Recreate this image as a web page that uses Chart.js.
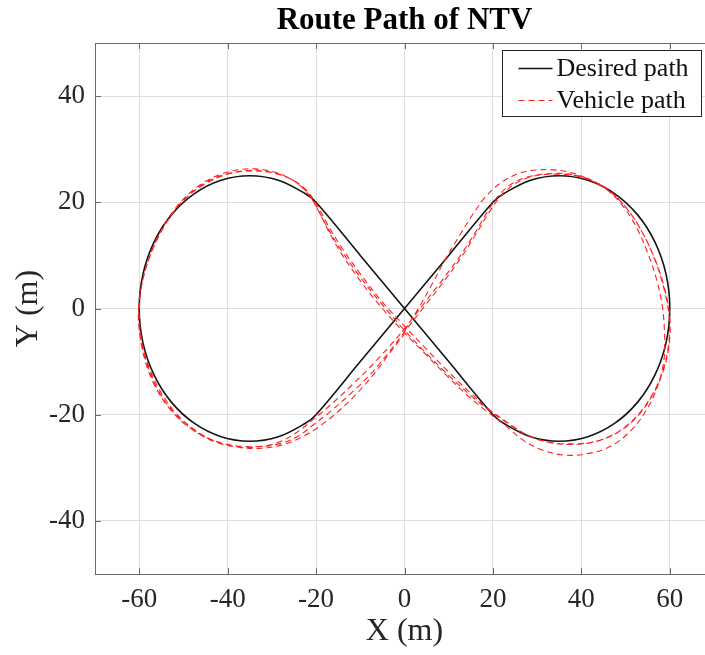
<!DOCTYPE html>
<html>
<head>
<meta charset="utf-8">
<script src="https://cdn.jsdelivr.net/npm/chart.js@4/dist/chart.umd.min.js"></script>
<style>
html,body{margin:0;padding:0;background:#fff;overflow:hidden;}
#wrap{position:relative;width:714px;height:655px;}
</style>
</head>
<body>
<div id="wrap"><canvas id="c" width="714" height="655"></canvas></div>
<script>
const chartTitle = 'Route Path of NTV';
const xLabel = 'X (m)';
const yLabel = 'Y (m)';
const seriesNames = ['Desired path', 'Vehicle path'];
const xTicks = [-60, -40, -20, 0, 20, 40, 60];
const yTicks = [-40, -20, 0, 20, 40];

const desiredPath = [
  [0,0],[10,10],[20,20],[22.5,21.65],[28.53,24.15],[35,25],[41.47,24.15],[47.5,21.65],
  [52.68,17.68],[56.65,12.5],[59.15,6.47],[60,0],[59.15,-6.47],[56.65,-12.5],[52.68,-17.68],
  [47.5,-21.65],[41.47,-24.15],[35,-25],[28.53,-24.15],[22.5,-21.65],[20,-20],[10,-10],[0,0],
  [-10,10],[-20,20],[-22.5,21.65],[-28.53,24.15],[-35,25],[-41.47,24.15],[-47.5,21.65],
  [-52.68,17.68],[-56.65,12.5],[-59.15,6.47],[-60,0],[-59.15,-6.47],[-56.65,-12.5],[-52.68,-17.68],
  [-47.5,-21.65],[-41.47,-24.15],[-35,-25],[-28.53,-24.15],[-22.5,-21.65],[-20,-20],[-10,-10],[0,0]
];

const vehiclePath = [
  // lap 1
  [0,-4.2],[3.5,0.5],[6.5,5],[9.2,9.2],[12.5,13.8],[15.5,17.8],[18.5,21.2],[22,23.8],[26,25.5],
  [30,26.1],[34,26.1],[38,25.5],[42,24.2],[46,22.2],[49.5,19.2],[52.5,15.2],[55,10.5],[57,5.5],
  [58.3,0.5],[58.8,-4.5],[58.7,-9.5],[57.3,-14.5],[54.8,-19],[51.2,-23],[46.5,-26],[41,-27.4],
  [36,-27.6],[31,-26.6],[26.5,-24.6],[22.5,-21.8],[18.5,-19.3],[14,-16.2],[9.5,-12.6],[5,-8.8],
  [0,-4.6],[-5,0],[-10,5.2],[-14,10],[-17,14.3],[-19.6,18.6],[-22,21.8],[-25.5,24.3],[-29.5,25.7],
  [-34,26.3],[-38.5,26],[-43,24.8],[-47.5,22.5],[-51.5,19.2],[-55,14.8],[-57.8,9.5],[-59.6,3.8],
  [-60.2,-1.5],[-59.5,-6.5],[-58,-11],[-55.8,-15.3],[-52.5,-19.3],[-48.3,-22.6],[-43.5,-24.9],
  [-38.5,-26],[-33.5,-26.1],[-28.5,-25.2],[-24.3,-23.3],[-20.5,-20.8],[-16.5,-18],[-12,-14.5],
  [-7.5,-10.8],[-3.5,-7.2],
  // lap 2
  [0,-3.8],[4,0.5],[8.5,5.3],[12.5,9.8],[16,14.3],[18.8,18.3],[21.3,21.3],[24.5,23.6],[28.5,24.9],
  [33,25.4],[37.5,25.3],[42,24.3],[46.3,22.2],[50.3,18.8],[53.8,14.3],[56.8,9],[58.9,3.5],
  [60,-1.5],[59.9,-6.5],[58.7,-11.3],[56.3,-16],[52.8,-20.2],[48.3,-23.3],[43,-25.1],[37.5,-25.6],
  [32.5,-25.2],[27.5,-23.8],[23.3,-21.6],[19.5,-19.4],[15,-16.4],[10,-12.6],[5,-8.5],[0,-4.1],
  [-5,0.7],[-10,5.9],[-14.2,10.8],[-17.6,15.5],[-20.2,19.6],[-22.8,22.6],[-26.5,24.7],[-31,25.8],
  [-35.5,26],[-40,25.4],[-44.8,23.8],[-49.2,21],[-53.2,17],[-56.6,11.8],[-59,6],[-60.1,0],
  [-59.8,-5.2],[-58.6,-10],[-56.5,-14.5],[-53.3,-18.7],[-49,-22.2],[-44,-24.6],[-38.5,-25.8],
  [-33,-26],[-28,-25.4],[-24,-24],[-20.6,-21.9],[-16.5,-19.2],[-12,-15.9],[-7.5,-12.2],[-3.5,-8.2],
  // lap 3
  [0,-4.4],[4.3,0.2],[8.8,5],[12.8,9.6],[16.3,14.2],[19.2,18.2],[21.8,21.2],[25,23.5],[29,24.9],
  [33.5,25.3],[38,25.1],[42.5,24],[46.8,21.8],[50.6,18.5],[54,14],[56.9,8.6],[58.9,3],[59.9,-2],
  [59.7,-7],[58.4,-11.8],[56,-16.3],[52.5,-20.3],[48,-23.4],[42.8,-25.1],[37.5,-25.5],[32.3,-25.1],
  [27.3,-23.6],[23,-21.3],[19,-18.9],[14.5,-15.6],[9.8,-11.8],[5,-7.7],[0,-3.3],[-5,1.2],
  [-9.8,6.3],[-14,11.2],[-17.4,15.8],[-20,19.8],[-22.6,22.6],[-26.3,24.6],[-30.8,25.7],[-35.3,25.9],
  [-40,25.3],[-44.8,23.6],[-49.3,20.9],[-53.3,16.9],[-56.7,11.6],[-59.1,5.7],[-60,-0.5],
  [-59.4,-6.2],[-57.7,-11.2],[-55.1,-15.8],[-51.6,-19.8],[-47.2,-23],[-42.2,-25.2],[-37,-26.2],
  [-32,-26.3],[-27.3,-25.6],[-23.2,-24.2],[-19.6,-22.4],[-15.3,-19.6],[-11,-16.2],[-6.8,-12.2],
  [-3,-8],[0,-4.8]
];

const FONT = '"Liberation Serif", "Times New Roman", serif';
Chart.defaults.font.family = FONT;

const axisColor = '#6f6a6a';

const framePlugin = {
  id: 'frame',
  afterDatasetsDraw(chart) {
    const {ctx, chartArea: a, scales: {x, y}} = chart;
    ctx.save();
    ctx.strokeStyle = axisColor;
    ctx.lineWidth = 1;
    ctx.beginPath();
    ctx.moveTo(a.left, a.top + 0.5); ctx.lineTo(a.right, a.top + 0.5);
    ctx.moveTo(a.right - 0.5, a.top); ctx.lineTo(a.right - 0.5, a.bottom);
    xTicks.forEach(v => {
      const px = Math.round(x.getPixelForValue(v)) + 0.5;
      ctx.moveTo(px, a.bottom); ctx.lineTo(px, a.bottom - 6);
      ctx.moveTo(px, a.top); ctx.lineTo(px, a.top + 6);
    });
    yTicks.forEach(v => {
      const py = Math.round(y.getPixelForValue(v)) + 0.5;
      ctx.moveTo(a.left, py); ctx.lineTo(a.left + 6, py);
      ctx.moveTo(a.right, py); ctx.lineTo(a.right - 6, py);
    });
    ctx.stroke();
    ctx.restore();
  }
};

const legendPlugin = {
  id: 'boxLegend',
  afterDraw(chart) {
    const ctx = chart.ctx;
    ctx.save();
    const x0 = 502.5, y0 = 50.5, w = 199, h = 66;
    ctx.fillStyle = '#fff';
    ctx.fillRect(x0, y0, w, h);
    ctx.strokeStyle = '#262626';
    ctx.lineWidth = 1;
    ctx.strokeRect(x0, y0, w, h);
    ctx.font = '26px ' + FONT;
    ctx.textBaseline = 'middle';
    ctx.textAlign = 'left';
    ctx.fillStyle = '#111';
    chart.data.datasets.forEach((ds, i) => {
      const yy = y0 + 18 + i * 32;
      ctx.beginPath();
      ctx.setLineDash(ds.borderDash || []);
      ctx.strokeStyle = ds.borderColor;
      ctx.lineWidth = ds.borderWidth;
      ctx.moveTo(x0 + 16, yy); ctx.lineTo(x0 + 50, yy);
      ctx.stroke();
      ctx.setLineDash([]);
      ctx.fillText(ds.label, x0 + 54, yy + 1);
    });
    ctx.restore();
  }
};

const toXY = arr => arr.map(p => ({x: p[0], y: p[1]}));

new Chart(document.getElementById('c'), {
  type: 'scatter',
  data: {
    datasets: [
      {
        label: seriesNames[0],
        data: toXY(desiredPath),
        showLine: true,
        borderColor: '#141414',
        borderWidth: 1.6,
        pointRadius: 0,
        tension: 0.35,
        order: 2
      },
      {
        label: seriesNames[1],
        data: toXY(vehiclePath),
        showLine: true,
        borderColor: '#ff1f1f',
        borderWidth: 1.1,
        borderDash: [6, 4],
        pointRadius: 0,
        tension: 0.35,
        order: 1
      }
    ]
  },
  options: {
    responsive: false,
    animation: false,
    layout: {padding: 0},
    plugins: {
      legend: {display: false},
      tooltip: {enabled: false},
      title: {
        display: true,
        fullSize: false,
        text: chartTitle,
        color: '#000',
        font: {size: 31, weight: 'bold', lineHeight: 1},
        padding: {top: 5, bottom: 7}
      }
    },
    scales: {
      x: {
        type: 'linear',
        min: -70, max: 70,
        afterBuildTicks: s => { s.ticks = xTicks.map(v => ({value: v})); },
        afterFit: s => { s.height = 81; },
        grid: {color: '#e2dcdc', drawTicks: false},
        border: {color: axisColor},
        ticks: {font: {size: 27}, color: '#262626', padding: 10, maxRotation: 0},
        title: {display: true, text: xLabel, color: '#262626', font: {size: 32}, padding: {top: 0, bottom: 4}}
      },
      y: {
        type: 'linear',
        min: -50, max: 50,
        afterBuildTicks: s => { s.ticks = yTicks.map(v => ({value: v})); },
        afterFit: s => { s.width = 95; },
        grid: {color: '#e2dcdc', drawTicks: false},
        border: {color: axisColor},
        ticks: {font: {size: 27}, color: '#262626', padding: 10},
        title: {display: true, text: yLabel, color: '#262626', font: {size: 32}, padding: {top: 9, bottom: 0}}
      }
    }
  },
  plugins: [framePlugin, legendPlugin]
});
</script>
</body>
</html>
